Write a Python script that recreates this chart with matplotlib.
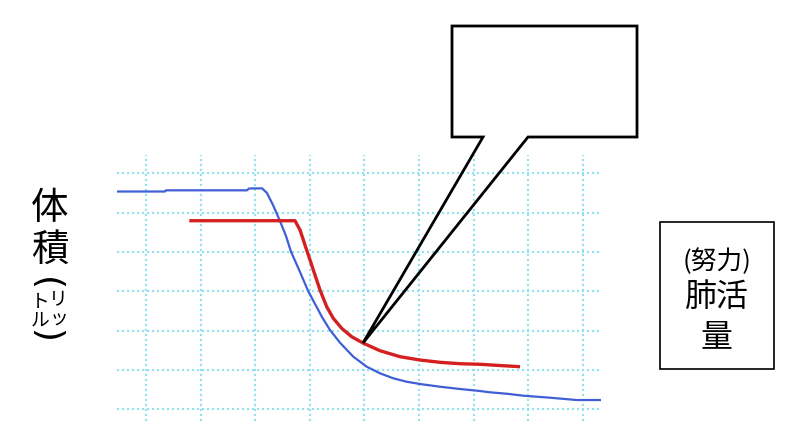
import matplotlib
matplotlib.use('Agg')
import matplotlib.pyplot as plt
from matplotlib.patches import Polygon, Rectangle

plt.rcParams['font.family'] = ['Noto Sans CJK JP', 'DejaVu Sans']

# ---------------- data ----------------
time_grid = [1, 2, 3, 4, 5, 6, 7, 8, 9]
volume_grid = [0, 1, 2, 3, 4, 5, 6]

blue_x = [0.469, 1.348, 1.366, 2.850, 2.886, 3.125, 3.216, 3.326, 3.454,
          3.564, 3.656, 3.821, 3.967, 4.077, 4.223, 4.370, 4.553, 4.797,
          5.042, 5.286, 5.529, 5.775, 6.018, 6.385, 6.751, 7.117, 7.300,
          7.606, 7.910, 8.399, 8.888, 9.346]
blue_y = [5.535, 5.535, 5.565, 5.565, 5.611, 5.616, 5.497, 5.192, 4.785,
          4.404, 4.005, 3.489, 3.014, 2.727, 2.346, 2.015, 1.693, 1.337,
          1.083, 0.915, 0.788, 0.701, 0.643, 0.574, 0.516, 0.465, 0.432,
          0.396, 0.346, 0.295, 0.236, 0.236]

red_x = [1.793, 3.729, 3.821, 3.912, 4.004, 4.095, 4.187, 4.310, 4.430,
         4.584, 4.767, 4.974, 5.286, 5.652, 6.018, 6.385, 6.751, 7.117,
         7.484, 7.850]
red_y = [4.793, 4.793, 4.557, 4.175, 3.794, 3.413, 3.032, 2.607, 2.313,
         2.058, 1.845, 1.685, 1.489, 1.337, 1.253, 1.194, 1.159, 1.144,
         1.113, 1.083]
callout_point = (4.974, 1.685)

ylabel_main = ['体', '積']
ylabel_unit = [['ト', 'リ'], ['ル', 'ッ']]
box_lines = ['(努力)', '肺活', '量']

# ---------------- figure ----------------
W, H = 800, 445
fig = plt.figure(figsize=(W / 100, H / 100), dpi=100)
fig.patch.set_facecolor('white')

def fx(px):
    return px / W

def fy(py):
    return 1 - py / H

ax = fig.add_axes([fx(117), fy(421), 484 / W, 266 / H])
ax.set_xlim(0.469, 9.333)
ax.set_ylim(-0.297, 6.463)
ax.axis('off')

grid_c = '#8fe2ee'
for t in time_grid:
    ax.axvline(t, color=grid_c, lw=1.5, ls=(0, (1, 1.4)), zorder=1)
for v in volume_grid:
    ax.axhline(v, color=grid_c, lw=1.5, ls=(0, (1, 1.4)), zorder=1)

ax.plot(blue_x, blue_y, color='#3f5fd6', lw=1.6, zorder=3,
        solid_joinstyle='round')
ax.plot(red_x, red_y, color='#d42020', lw=2.4, zorder=4,
        solid_joinstyle='round', solid_capstyle='butt')

# callout balloon
tip = fig.transFigure.inverted().transform(ax.transData.transform(callout_point))
bx0, by0, bx1, by1 = 452, 26, 637, 137
tail_a, tail_b = 483, 528
verts = [(fx(bx0), fy(by0)), (fx(bx1), fy(by0)), (fx(bx1), fy(by1)),
         (fx(tail_b), fy(by1)), (tip[0], tip[1]), (fx(tail_a), fy(by1)),
         (fx(bx0), fy(by1))]
fig.add_artist(Polygon(verts, closed=True, facecolor='none',
                       edgecolor='black', lw=2.0, joinstyle='miter',
                       transform=fig.transFigure, zorder=5))

# right box
fig.add_artist(Rectangle((fx(660), fy(369)), 114 / W, 147 / H,
                         facecolor='none', edgecolor='black', lw=1.2,
                         transform=fig.transFigure))
fig.text(fx(717), fy(262), box_lines[0], fontsize=18.5, ha='center', va='center')
fig.text(fx(717), fy(297), box_lines[1], fontsize=23, ha='center', va='center')
fig.text(fx(717), fy(337), box_lines[2], fontsize=23, ha='center', va='center')

# left vertical label
fig.text(fx(50), fy(209), ylabel_main[0], fontsize=27, ha='center', va='center')
fig.text(fx(50), fy(250), ylabel_main[1], fontsize=27, ha='center', va='center')
fig.text(fx(49), fy(279), ')', fontsize=26, rotation=90,
         ha='center', va='center', family='DejaVu Sans')
fig.text(fx(49), fy(331), '(', fontsize=26, rotation=90,
         ha='center', va='center', family='DejaVu Sans')
fig.text(fx(40), fy(301), ylabel_unit[0][0], fontsize=13.5, ha='center', va='center')
fig.text(fx(58), fy(300), ylabel_unit[0][1], fontsize=13.5, ha='center', va='center')
fig.text(fx(40), fy(320), ylabel_unit[1][0], fontsize=13.5, ha='center', va='center')
fig.text(fx(59), fy(319), ylabel_unit[1][1], fontsize=13.5, ha='center', va='center')

fig.savefig('out.png', dpi=100, facecolor='white')
